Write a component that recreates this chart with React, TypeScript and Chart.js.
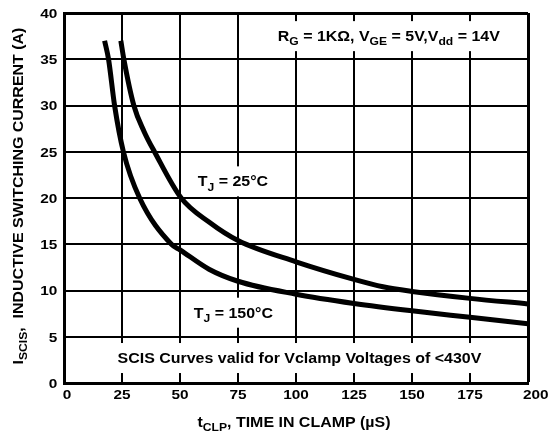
import { useEffect, useRef } from 'react';
import Chart from 'chart.js/auto';

// ---- data ----
const tj25Time = [24.5, 25.8, 30.1, 34.5, 39, 50.5, 62.5, 75, 100, 125, 137.5, 150, 175, 200];
const tj25Current = [37, 35, 30, 27.2, 25, 20, 17.4, 15.4, 13.1, 11.2, 10.4, 9.9, 9.15, 8.55];
const tj150Time = [17.5, 19.2, 21.8, 25.6, 32.6, 46.3, 50, 62.5, 75, 100, 125, 150, 175, 200];
const tj150Current = [37, 35, 30, 25, 20, 15, 14.4, 12.3, 11, 9.6, 8.6, 7.8, 7.1, 6.4];
const xTickLabels = ['0', '25', '50', '75', '100', '125', '150', '175', '200'];
const yTickLabels = ['0', '5', '10', '15', '20', '25', '30', '35', '40'];

const FONT = '"Liberation Sans", Arial, Helvetica, sans-serif';
const SX = 1.14; // horizontal stretch of the lettering
const TEXT_SIZE = 14;
const TICK_SIZE = 13.5;
const SUB_RATIO = 0.76;

type Seg = { t: string; sub?: boolean };

const NOTE_RG: Seg[] = [
  { t: 'R' }, { t: 'G', sub: true }, { t: ' = 1K\u03A9, V' }, { t: 'GE', sub: true },
  { t: ' = 5V,V' }, { t: 'dd', sub: true }, { t: ' = 14V' },
];
const NOTE_25: Seg[] = [{ t: 'T' }, { t: 'J', sub: true }, { t: ' = 25\u00B0C' }];
const NOTE_150: Seg[] = [{ t: 'T' }, { t: 'J', sub: true }, { t: ' = 150\u00B0C' }];
const NOTE_SCIS: Seg[] = [{ t: 'SCIS Curves valid for Vclamp Voltages of <430V' }];
const Y_TITLE: Seg[] = [{ t: 'I' }, { t: 'SCIS', sub: true }, { t: ',  INDUCTIVE SWITCHING CURRENT (A)' }];
const X_TITLE: Seg[] = [{ t: 't' }, { t: 'CLP', sub: true }, { t: ', TIME IN CLAMP (\u00B5S)' }];

function segWidth(ctx: CanvasRenderingContext2D, segs: Seg[], size: number) {
  let w = 0;
  for (const s of segs) {
    ctx.font = `bold ${s.sub ? size * SUB_RATIO : size}px ${FONT}`;
    w += ctx.measureText(s.t).width;
  }
  return w * SX;
}

// draws text with its left edge at x, baseline at y (stretched horizontally)
function drawRichLeft(ctx: CanvasRenderingContext2D, segs: Seg[], x: number, y: number, size: number) {
  ctx.save();
  ctx.translate(x, y);
  ctx.scale(SX, 1);
  ctx.textAlign = 'left';
  ctx.textBaseline = 'alphabetic';
  ctx.fillStyle = '#000';
  let cx = 0;
  for (const s of segs) {
    const fs = s.sub ? size * SUB_RATIO : size;
    ctx.font = `bold ${fs}px ${FONT}`;
    ctx.fillText(s.t, cx, s.sub ? size * 0.3 : 0);
    cx += ctx.measureText(s.t).width;
  }
  ctx.restore();
}

function drawRich(ctx: CanvasRenderingContext2D, segs: Seg[], cx: number, baseline: number, size: number) {
  const w = segWidth(ctx, segs, size);
  drawRichLeft(ctx, segs, cx - w / 2, baseline, size);
  return w;
}

const NOTES = [
  { segs: NOTE_RG, x: 140, y: 37.5 },
  { segs: NOTE_25, x: 72.8, y: 21.8 },
  { segs: NOTE_150, x: 73, y: 7.6 },
  { segs: NOTE_SCIS, x: 101.5, y: 2.7 },
];

const notesPlugin = {
  id: 'notes',
  beforeDatasetsDraw(chart: any) {
    const ctx: CanvasRenderingContext2D = chart.ctx;
    const xs = chart.scales.x;
    const ys = chart.scales.y;
    ctx.save();
    for (const n of NOTES) {
      const px = xs.getPixelForValue(n.x);
      const py = ys.getPixelForValue(n.y);
      const w = segWidth(ctx, n.segs, TEXT_SIZE);
      ctx.fillStyle = '#fff';
      ctx.fillRect(px - w / 2 - 6, py - 15, w + 12, 30);
      drawRich(ctx, n.segs, px, py + TEXT_SIZE * 0.36, TEXT_SIZE);
    }
    ctx.restore();
  },
  afterDraw(chart: any) {
    const ctx: CanvasRenderingContext2D = chart.ctx;
    const a = chart.chartArea;
    const xs = chart.scales.x;
    const ys = chart.scales.y;
    ctx.save();
    // tick labels
    const capH = TICK_SIZE * 0.716;
    xTickLabels.forEach((l, i) => {
      const px = xs.getPixelForValue(Number(l));
      const seg = [{ t: l }];
      const w = segWidth(ctx, seg, TICK_SIZE);
      const left = i === xTickLabels.length - 1 ? px - 5 : px - w / 2 + (i === 0 ? 3 : 0);
      drawRichLeft(ctx, seg, left, a.bottom + 15.5, TICK_SIZE);
    });
    yTickLabels.forEach((l) => {
      const py = ys.getPixelForValue(Number(l));
      const seg = [{ t: l }];
      const w = segWidth(ctx, seg, TICK_SIZE);
      drawRichLeft(ctx, seg, a.left - 6.7 - w, py + capH / 2, TICK_SIZE);
    });
    // axis titles
    drawRich(ctx, X_TITLE, (a.left + a.right) / 2 - 2, a.bottom + 44, TEXT_SIZE);
    ctx.translate(a.left - 41, (a.top + a.bottom) / 2 - 2);
    ctx.rotate(-Math.PI / 2);
    drawRich(ctx, Y_TITLE, 0, 0, TEXT_SIZE);
    ctx.restore();
  },
};

export default function App() {
  const ref = useRef<HTMLCanvasElement | null>(null);
  useEffect(() => {
    if (!ref.current) return;
    const chart = new Chart(ref.current, {
      type: 'line',
      data: {
        datasets: [
          {
            label: 'TJ = 25°C',
            data: tj25Time.map((t, i) => ({ x: t, y: tj25Current[i] })),
            borderColor: '#000',
            borderWidth: 5,
            pointRadius: 0,
            cubicInterpolationMode: 'monotone',
            fill: false,
          },
          {
            label: 'TJ = 150°C',
            data: tj150Time.map((t, i) => ({ x: t, y: tj150Current[i] })),
            borderColor: '#000',
            borderWidth: 5,
            pointRadius: 0,
            cubicInterpolationMode: 'monotone',
            fill: false,
          },
        ],
      },
      options: {
        animation: false,
        responsive: true,
        maintainAspectRatio: false,
        layout: { padding: { top: 13, right: 22, left: 0, bottom: 0 } },
        plugins: { legend: { display: false }, tooltip: { enabled: false } },
        scales: {
          x: {
            type: 'linear',
            min: 0,
            max: 200,
            afterFit: (s: any) => { s.height = 53; },
            afterBuildTicks: (s: any) => {
              s.ticks = xTickLabels.map((l) => ({ value: Number(l) }));
            },
            ticks: { display: false },
            grid: {
              color: '#000',
              lineWidth: (c: any) => (c.tick && c.tick.value === 200 ? 3 : 2),
              drawTicks: false,
            },
            border: { display: true, color: '#000', width: 3 },
          },
          y: {
            type: 'linear',
            min: 0,
            max: 40,
            afterFit: (s: any) => { s.width = 64; },
            afterBuildTicks: (s: any) => {
              s.ticks = yTickLabels.map((l) => ({ value: Number(l) }));
            },
            ticks: { display: false },
            grid: {
              color: '#000',
              lineWidth: (c: any) => (c.tick && c.tick.value === 40 ? 3 : 2),
              drawTicks: false,
            },
            border: { display: true, color: '#000', width: 3 },
          },
        },
      },
      plugins: [notesPlugin],
    } as any);
    return () => chart.destroy();
  }, []);
  return (
    <div style={{ position: 'absolute', left: 0, top: 0, width: 550, height: 436, background: '#fff' }}>
      <canvas ref={ref} />
    </div>
  );
}
